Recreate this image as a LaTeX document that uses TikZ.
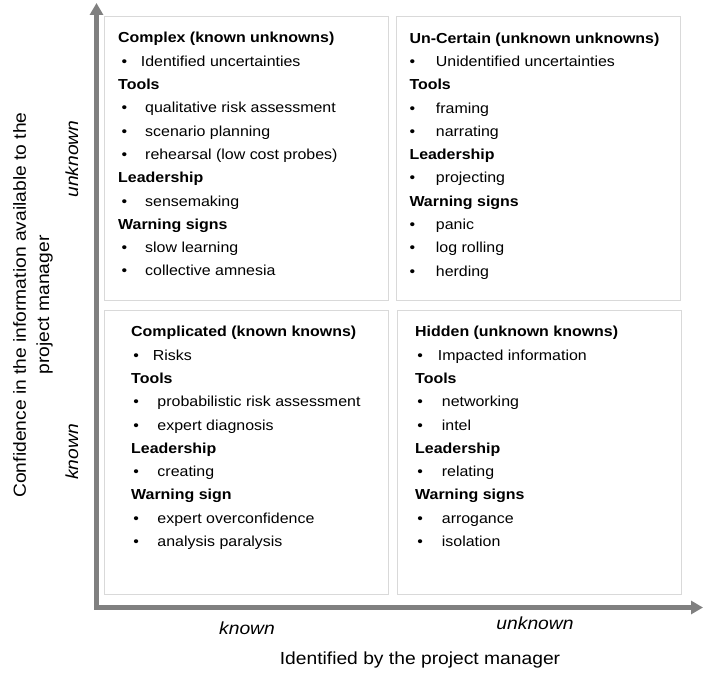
\documentclass[tikz,border=0pt]{standalone}
\usepackage{fontspec}
\setmainfont[FakeStretch=1.1]{Liberation Sans}
\usetikzlibrary{arrows.meta}

\definecolor{axisgray}{RGB}{128,128,128}
\definecolor{boxgray}{RGB}{217,217,217}

\newlength\bulx \newlength\fstw \newlength\itmw
\newcommand{\fst}[1]{\hspace*{\bulx}\makebox[\fstw][l]{\textbullet}#1}
\newcommand{\itm}[1]{\hspace*{\bulx}\makebox[\itmw][l]{\textbullet}#1}

\tikzset{
	axis/.style={line width=4.5pt, axisgray, {Triangle[length=12pt,width=13pt]}-{Triangle[length=12pt,width=13pt]}},
	quad/.style={draw=boxgray, line width=1pt},
	lst/.style n args={3}{anchor=north west, align=left, inner sep=0pt,
		font=\fontsize{14.5}{23.3}\selectfont,
		execute at begin node={\setlength\bulx{#1}\setlength\fstw{#2}\setlength\itmw{#3}}},
	lbl/.style={inner sep=0pt, font=\fontsize{17.5}{23.4}\selectfont}
}

\begin{document}
\begin{tikzpicture}[x=1pt, y=-1pt]
	\useasboundingbox (0,0) rectangle (704,679);
	
	%boxes
	\draw[quad] (104,17) rectangle (388,300);
	\draw[quad] (396,17) rectangle (680,300);
	\draw[quad] (104,310) rectangle (388,594);
	\draw[quad] (397,310) rectangle (681,594);
	
	%axis
	\draw[axis] (96.5,3) -- (96.5,607.5) -- (703,607.5);
	
	%quadrants
	\node[lst={3.5pt}{19.2pt}{23.5pt}] (cplx) at (118,32.2) {\textbf{Complex (known unknowns)}\\
		\fst{Identified uncertainties}\\
		\textbf{Tools}\\
		\itm{qualitative risk assessment}\\
		\itm{scenario planning}\\
		\itm{rehearsal (low cost probes)}\\
		\textbf{Leadership}\\
		\itm{sensemaking}\\
		\textbf{Warning signs}\\
		\itm{slow learning}\\
		\itm{collective amnesia}};
	\node[lst={0pt}{26.4pt}{26.4pt}] (uncert) at (409.3,32.4) {\textbf{Un-Certain (unknown unknowns)}\\
		\fst{Unidentified uncertainties}\\
		\textbf{Tools}\\
		\itm{framing}\\
		\itm{narrating}\\
		\textbf{Leadership}\\
		\itm{projecting}\\
		\textbf{Warning signs}\\
		\itm{panic}\\
		\itm{log rolling}\\
		\itm{herding}};
	\node[lst={2.2pt}{19.5pt}{24.1pt}] (cmpl) at (131,326.1) {\textbf{Complicated (known knowns)}\\
		\fst{Risks}\\
		\textbf{Tools}\\
		\itm{probabilistic risk assessment}\\
		\itm{expert diagnosis}\\
		\textbf{Leadership}\\
		\itm{creating}\\
		\textbf{Warning sign}\\
		\itm{expert overconfidence}\\
		\itm{analysis paralysis}};
	\node[lst={2.2pt}{20.5pt}{24.5pt}] (hidden) at (415,326.1) {\textbf{Hidden (unknown knowns)}\\
		\fst{Impacted information}\\
		\textbf{Tools}\\
		\itm{networking}\\
		\itm{intel}\\
		\textbf{Leadership}\\
		\itm{relating}\\
		\textbf{Warning signs}\\
		\itm{arrogance}\\
		\itm{isolation}};
	
	%labels
	\node[lbl, anchor=base] (xknown) at (247,634) {\textit{known}};
	\node[lbl, anchor=base] (xunknown) at (535,629.3) {\textit{unknown}};
	\node[lbl, anchor=base] (xtitle) at (420,664.3) {Identified by the project manager};
	\node[lbl, anchor=base, rotate=90] (yunknown) at (78,159) {\textit{unknown}};
	\node[lbl, anchor=base, rotate=90] (yknown) at (78,452) {\textit{known}};
	\node[lbl, align=center, rotate=90] (ytitle) at (33,305) {Confidence in the information available to the\\ project manager};
\end{tikzpicture}
\end{document}
